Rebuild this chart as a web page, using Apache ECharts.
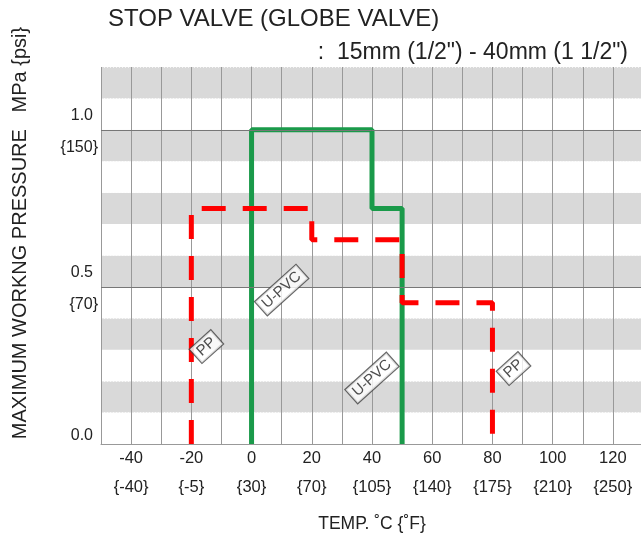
<!DOCTYPE html>
<html>
<head>
<meta charset="utf-8">
<script src="https://cdn.jsdelivr.net/npm/echarts@6/dist/echarts.min.js"></script>
<style>
html,body{margin:0;padding:0;background:#fff;}
#chart{width:641px;height:535px;}
</style>
</head>
<body>
<div id="chart"></div>
<script>
// ---- data ----
const titleText = 'STOP VALVE (GLOBE VALVE)';
const subtitleText = ':  15mm (1/2") - 40mm (1 1/2")';
const xAxisName = 'TEMP. \u02DAC {\u02DAF}';
const yAxisName = 'MAXIMUM WORKNG PRESSURE   MPa {psi}';
const xTicksC = [-40, -20, 0, 20, 40, 60, 80, 100, 120];
const xTicksF = ['{-40}', '{-5}', '{30}', '{70}', '{105}', '{140}', '{175}', '{210}', '{250}'];
const yTicksMPa = [0, 0.5, 1.0];
const yTicksMPaLabel = ['0.0', '0.5', '1.0'];
const yTicksPsi = ['', '{70}', '{150}'];
const upvcTemp = [0, 0, 40, 40, 50, 50];
const upvcPressure = [0, 1.0, 1.0, 0.75, 0.75, 0];
const ppTemp = [-20, -20, 20, 20, 50, 50, 80, 80];
const ppPressure = [0, 0.75, 0.75, 0.65, 0.65, 0.45, 0.45, 0];
const labelNames = ['U-PVC', 'U-PVC', 'PP', 'PP'];
const labelTemp = [10, 40, -15, 87];
const labelPressure = [0.49, 0.21, 0.31, 0.24];
const refLines = [0.5, 1.0];

const chart = echarts.init(document.getElementById('chart'));
const FONT = 'Liberation Sans, Arial, sans-serif';
const TXT = '#222';

const option = {
  animation: false,
  backgroundColor: '#fff',
  title: {
    text: titleText,
    left: 108, top: 7, padding: 0,
    textStyle: { fontFamily: FONT, fontSize: 24, fontWeight: 'normal', color: TXT }
  },
  graphic: [
    {
      type: 'text', right: 13, top: 41,
      style: { text: subtitleText, fontFamily: FONT, fontSize: 23, fill: TXT }
    },
    {
      type: 'text', x: 10, y: 233, rotation: Math.PI / 2,
      style: { text: yAxisName, fontFamily: FONT, fontSize: 20, fill: TXT, align: 'center', verticalAlign: 'top' }
    }
  ],
  grid: { left: 101, right: -2, top: 67, bottom: 91, outerBoundsMode: 'none', containLabel: false },
  xAxis: {
    type: 'value', min: -50, max: 130, interval: 10,
    name: xAxisName, nameLocation: 'middle', nameGap: 71,
    nameTextStyle: { fontFamily: FONT, fontSize: 17.5, color: TXT },
    axisLine: { show: true, lineStyle: { color: '#999', width: 1 } },
    axisTick: { show: false },
    splitLine: { show: true, lineStyle: { color: '#999', width: 1 } },
    axisLabel: {
      margin: 0,
      fontFamily: FONT, fontSize: 16.5, color: TXT, lineHeight: 29,
      showMinLabel: true, showMaxLabel: true,
      formatter: function (v) {
        const i = xTicksC.indexOf(Math.round(v));
        if (i < 0 || Math.abs(v - Math.round(v)) > 1e-6) return '';
        return xTicksC[i] + '\n' + xTicksF[i];
      }
    }
  },
  yAxis: {
    type: 'value', min: 0, max: 1.2, interval: 0.1,
    axisLine: { show: true, lineStyle: { color: '#999', width: 1 } },
    axisTick: { show: false },
    splitLine: { show: true, lineStyle: { color: 'rgba(255,255,255,0.7)', width: 1, type: [1, 2] } },
    splitArea: { show: true, areaStyle: { color: ['#ffffff', '#d9d9d9'] } },
    axisLabel: {
      margin: 3,
      padding: [4, 0, 0, 0],
      fontFamily: FONT, fontSize: 16, color: TXT,
      formatter: function (v) {
        for (let i = 0; i < yTicksMPa.length; i++) {
          if (Math.abs(v - yTicksMPa[i]) < 1e-6) {
            if (yTicksPsi[i] === '') return '{z|' + yTicksMPaLabel[i] + '}\n{z| }';
            return '{a|' + yTicksMPaLabel[i] + '}\n{b|' + yTicksPsi[i] + '}';
          }
        }
        return '';
      },
      rich: {
        a: { fontFamily: FONT, fontSize: 16, color: TXT, lineHeight: 32, padding: [0, 5, 0, 0] },
        b: { fontFamily: FONT, fontSize: 16, color: TXT, lineHeight: 32 },
        z: { fontFamily: FONT, fontSize: 16, color: TXT, lineHeight: 20, padding: [0, 5, 0, 0] }
      }
    }
  },
  series: [
    {
      type: 'line', data: [], z: 1, silent: true,
      markLine: {
        silent: true, symbol: 'none', label: { show: false },
        lineStyle: { color: '#777', width: 1, type: 'solid' },
        data: refLines.map(v => ({ yAxis: v }))
      }
    },
    {
      name: 'U-PVC', type: 'line', z: 3, symbol: 'none',
      data: upvcTemp.map((t, i) => [t, upvcPressure[i]]),
      lineStyle: { color: '#1a9a4a', width: 5 }
    },
    {
      name: 'PP', type: 'line', z: 4, symbol: 'none',
      data: ppTemp.map((t, i) => [t, ppPressure[i]]),
      lineStyle: { color: '#ff0000', width: 5, type: [24, 17], cap: 'butt' }
    },
    {
      type: 'scatter', z: 5, symbolSize: 0, silent: true,
      data: labelNames.map((n, i) => ({ value: [labelTemp[i], labelPressure[i]], name: n })),
      label: {
        show: true, position: 'inside', rotate: 42,
        formatter: p => p.name,
        fontFamily: FONT, fontSize: 15, color: '#222',
        backgroundColor: '#fff', borderColor: '#444', borderWidth: 1.2,
        padding: [2, 4, 1, 4]
      }
    }
  ]
};
chart.setOption(option);
</script>
</body>
</html>
